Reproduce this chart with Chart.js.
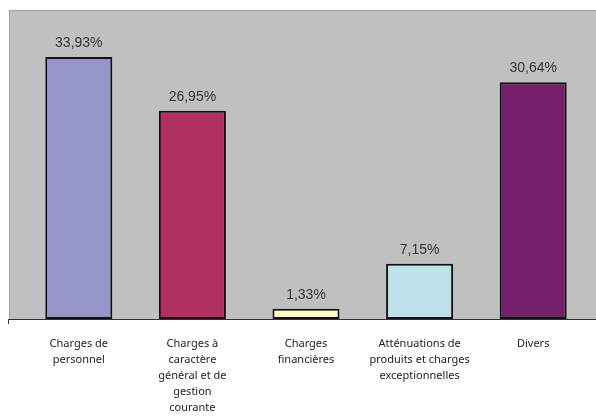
<!DOCTYPE html>
<html>
<head>
<meta charset="utf-8">
<script src="https://cdn.jsdelivr.net/npm/chart.js@4/dist/chart.umd.min.js"></script>
<style>
  html, body { margin: 0; padding: 0; background: #fff; }
  #wrap { width: 596px; height: 420px; }
</style>
</head>
<body>
<div id="wrap"><canvas id="c" width="596" height="420"></canvas></div>
<script>
const categories = [
  ["Charges de", "personnel"],
  ["Charges à", "caractère", "général et de", "gestion", "courante"],
  ["Charges", "financières"],
  ["Atténuations de", "produits et charges", "exceptionnelles"],
  ["Divers"]
];
const shares = [33.93, 26.95, 1.33, 7.15, 30.64];
const barColors = ["#9595c9", "#b03062", "#fdf8c4", "#bde2eb", "#731f69"];

const fmt = v => v.toFixed(2).replace(".", ",") + "%";

// gray plot panel + axis line, drawn behind the bars
const panel = {
  id: "panel",
  beforeDatasetsDraw(chart) {
    const { ctx, chartArea: a } = chart;
    ctx.save();
    ctx.fillStyle = "#c0c0c0";
    ctx.fillRect(9, a.top, chart.width - 9, a.bottom - a.top);
    ctx.strokeStyle = "#a3a3a3";
    ctx.lineWidth = 1;
    ctx.beginPath();
    ctx.moveTo(9.5, a.bottom);
    ctx.lineTo(9.5, a.top + 0.5);
    ctx.lineTo(chart.width, a.top + 0.5);
    ctx.stroke();
    ctx.restore();
  },
  afterDatasetsDraw(chart) {
    const { ctx, chartArea: a } = chart;
    ctx.save();
    ctx.strokeStyle = "#333";
    ctx.lineWidth = 1;
    ctx.beginPath();
    ctx.moveTo(8, a.bottom + 0.5);
    ctx.lineTo(chart.width, a.bottom + 0.5);
    ctx.moveTo(8.5, a.bottom);
    ctx.lineTo(8.5, a.bottom + 5);
    ctx.stroke();

    // value labels above bars
    ctx.fillStyle = "#333";
    ctx.font = "14px 'Liberation Sans', Arial, sans-serif";
    ctx.textAlign = "center";
    ctx.textBaseline = "alphabetic";
    chart.getDatasetMeta(0).data.forEach((bar, i) => {
      ctx.fillText(fmt(shares[i]), bar.x, bar.y - 10);
    });
    ctx.restore();
  }
};

new Chart(document.getElementById("c"), {
  type: "bar",
  data: {
    labels: categories,
    datasets: [{
      data: shares,
      backgroundColor: barColors,
      borderColor: "#111",
      borderWidth: 2,
      borderSkipped: false,
      barPercentage: 1,
      categoryPercentage: 0.59
    }]
  },
  options: {
    responsive: false,
    animation: false,
    layout: { padding: { top: 10, left: 22, right: 6, bottom: 0 } },
    plugins: { legend: { display: false }, tooltip: { enabled: false } },
    scales: {
      x: {
        grid: { display: false, drawTicks: false },
        border: { display: false },
        ticks: {
          padding: 17,
          color: "#222",
          font: { family: "'Noto Sans', sans-serif", size: 11, lineHeight: 1.45 },
          maxRotation: 0,
          autoSkip: false
        },
        afterFit(scale) { scale.height = 101; }
      },
      y: {
        display: false,
        min: 0,
        max: 40
      }
    }
  },
  plugins: [panel]
});
</script>
</body>
</html>
